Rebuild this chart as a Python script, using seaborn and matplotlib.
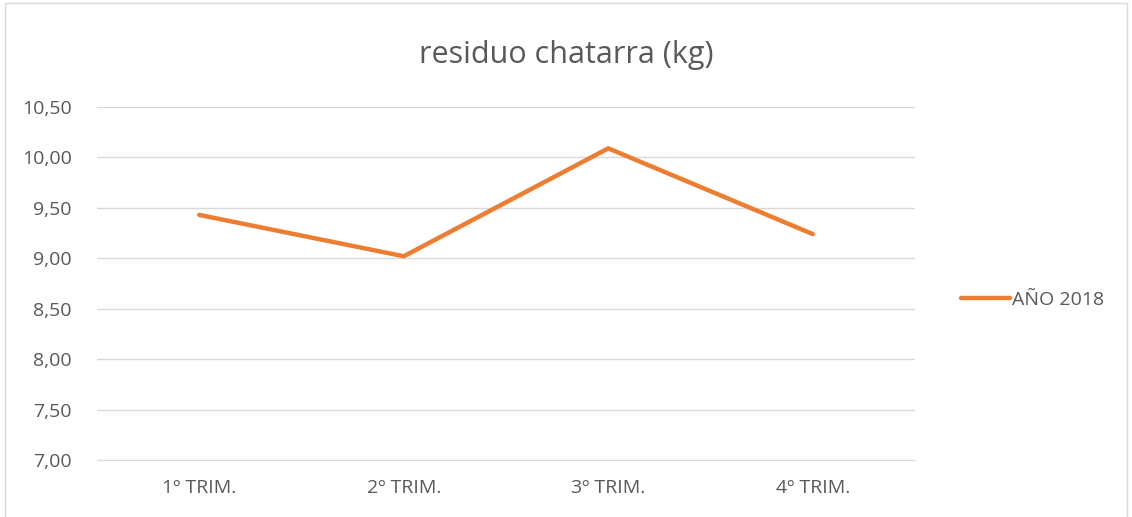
import matplotlib
matplotlib.use("Agg")
import matplotlib.pyplot as plt
import seaborn as sns
import pandas as pd
from matplotlib.ticker import FuncFormatter

# data
trimestres = ["1º TRIM.", "2º TRIM.", "3º TRIM.", "4º TRIM."]
valores = [9.43, 9.02, 10.09, 9.24]
serie = "AÑO 2018"

df = pd.DataFrame({"trim": trimestres, "kg": valores, "serie": serie})

sns.set_style("white")
plt.rcParams['font.family'] = ['Open Sans', 'DejaVu Sans']

fig = plt.figure(figsize=(11.32, 5.17), dpi=100)
ax = fig.add_axes([97 / 1132, 1 - 460 / 517, (915 - 97) / 1132, (460 - 107) / 517])

sns.lineplot(data=df, x="trim", y="kg", hue="serie", palette=["#ED7D31"],
             linewidth=3.2, ax=ax, sort=False)

ax.set_xlim(-0.5, 3.5)
ax.set_ylim(7.0, 10.5)
ax.set_yticks([7.0, 7.5, 8.0, 8.5, 9.0, 9.5, 10.0, 10.5])
ax.yaxis.set_major_formatter(FuncFormatter(lambda v, p: f"{v:.2f}".replace(".", ",")))
ax.grid(axis="y", color="#D9D9D9", linewidth=1.0)
ax.set_axisbelow(True)
for s in ax.spines.values():
    s.set_visible(False)
ax.spines["bottom"].set_visible(True)
ax.spines["bottom"].set_color("#D9D9D9")
ax.tick_params(axis="both", length=0, labelsize=14, colors="#595959")
ax.tick_params(axis="y", pad=18)
ax.tick_params(axis="x", pad=14)
ax.set_xlabel("")
ax.set_ylabel("")

leg = ax.legend(loc="center left", bbox_to_anchor=(1.035, 0.453), frameon=False,
                fontsize=14, handlelength=2.5, handletextpad=0.1, labelcolor="#595959")
for h in leg.get_lines():
    h.set_linewidth(3.2)
    h.set_solid_capstyle("round")

fig.text(0.5, 1 - 55 / 517, "residuo chatarra (kg)", ha="center", va="center",
         fontsize=22, color="#595959")

# outer chart border
fig.patches.append(plt.Rectangle((0.004, -0.01), 0.992, 1.004, transform=fig.transFigure,
                                 fill=False, edgecolor="#D9D9D9", linewidth=1))

fig.savefig("out.png", dpi=100)
